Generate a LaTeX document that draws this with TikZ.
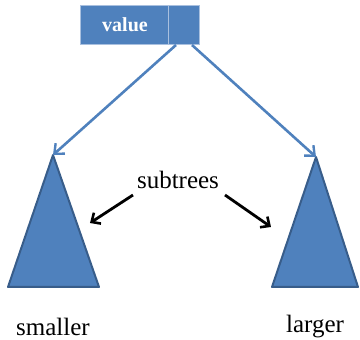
\documentclass[tikz,border=0pt]{standalone}
\usepackage{fontspec}
\setmainfont{Liberation Serif}
\usetikzlibrary{arrows.meta}
\definecolor{obl}{HTML}{4F81BD}
\definecolor{obd}{HTML}{385D8A}
\definecolor{obb}{HTML}{A9C0DF}
\tikzset{
  cell/.style={fill=obl, draw=obb, line width=1pt},
  tri/.style={fill=obl, draw=obd, line width=2pt, line join=round},
  ptr/.style={draw=obl, line width=2.6pt, -{Straight Barb[length=8pt,width=14pt,line width=2.4pt]}},
  blk/.style={draw=black, line width=2.8pt, -{Straight Barb[length=7pt,width=13pt,line width=2.6pt]}},
  lbl/.style={font=\fontsize{25}{28}\selectfont, inner sep=0pt}
}
\begin{document}
\begin{tikzpicture}[x=1pt,y=-1pt]
\useasboundingbox (0,0) rectangle (360,340);
% value box and pointer box
\draw[cell] (81,6) rectangle (169,45);
\draw[cell] (169,6) rectangle (200,45);
\node[inner sep=0pt, text=white, font=\bfseries\fontsize{20}{22}\selectfont] (val) at (125,25) {value};
\coordinate (pl) at (176,45);
\coordinate (pr) at (192,45);
% triangles
\coordinate (lt) at (53,155);
\coordinate (rt) at (316,157);
\draw[tri] (lt) -- (99,287) -- (8,287) -- cycle;
\draw[tri] (rt) -- (358,287) -- (272,287) -- cycle;
% pointers
\draw[ptr] (pl) -- (lt);
\draw[ptr] (pr) -- (rt);
% labels
\node[lbl] (sub) at (178,180) {subtrees};
\coordinate (sa) at (133,195);
\coordinate (sb) at (90,223);
\coordinate (sc) at (225,195);
\coordinate (sd) at (271,227);
\draw[blk] (sa) -- (sb);
\draw[blk] (sc) -- (sd);
\node[lbl] (sm) at (53,327) {smaller};
\node[lbl] (lg) at (315,327) {larger};
\end{tikzpicture}
\end{document}
